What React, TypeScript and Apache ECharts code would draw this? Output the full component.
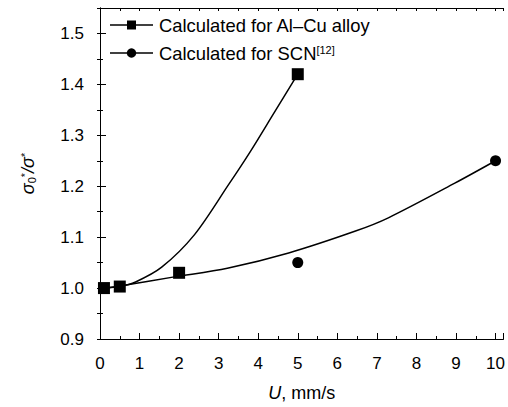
import React, { useEffect, useRef } from "react";
import * as echarts from "echarts";

const FONT = "'Liberation Sans', Arial, sans-serif";

// Measured points
const alCuX = [0.1, 0.5, 2, 5];
const alCuY = [1.0, 1.003, 1.03, 1.42];
const scnX = [5, 10];
const scnY = [1.05, 1.25];

// Curves
const alCuCurveX = [0.1, 0.5, 0.9, 1.56, 2.39, 3.25, 3.8, 4.4, 5];
const alCuCurveY = [1.0, 1.003, 1.012, 1.041, 1.105, 1.203, 1.268, 1.344, 1.42];
const scnCurveX = [0.1, 0.5, 1.88, 3.22, 4.77, 6.46, 7.29, 8.97, 10];
const scnCurveY = [1.0, 1.004, 1.022, 1.039, 1.069, 1.112, 1.138, 1.206, 1.25];

const NAME_ALCU = "Calculated for Al\u2013Cu alloy";
const NAME_SCN = "Calculated for SCN";

const zip = (xs: number[], ys: number[]) => xs.map((x, i) => [x, ys[i]]);

export default function App() {
  const ref = useRef<HTMLDivElement>(null);
  useEffect(() => {
    if (!ref.current) return;
    const chart = echarts.init(ref.current, null, { renderer: "svg" });
    const axisLine = { show: true, lineStyle: { color: "#000", width: 1 } };
    const legendFont = 18.4;
    const legendRows = [
      { y: 25, symbol: "rect", text: "{t|" + NAME_ALCU + "}" },
      { y: 53, symbol: "circle", text: "{t|" + NAME_SCN + "}{s|[12]}" },
    ];
    const legendGraphics: any[] = [];
    legendRows.forEach((r) => {
      legendGraphics.push({
        type: "line",
        shape: { x1: 110, y1: r.y, x2: 153, y2: r.y },
        style: { stroke: "#000", lineWidth: 1.5 },
      });
      if (r.symbol === "rect") {
        legendGraphics.push({
          type: "rect",
          shape: { x: 127, y: r.y - 4.5, width: 9, height: 9 },
          style: { fill: "#000" },
        });
      } else {
        legendGraphics.push({
          type: "circle",
          shape: { cx: 131.5, cy: r.y, r: 4.7 },
          style: { fill: "#000" },
        });
      }
      legendGraphics.push({
        type: "text",
        x: 159,
        y: r.y,
        style: {
          text: r.text,
          verticalAlign: "middle",
          align: "left",
          fill: "#000",
          font: `${legendFont}px ${FONT}`,
          rich: {
            t: { fontSize: legendFont, fontFamily: FONT, fill: "#000", color: "#000" },
            s: { fontSize: 11, fontFamily: FONT, fill: "#000", color: "#000", verticalAlign: "top" },
          },
        },
      });
    });

    chart.setOption({
      animation: false,
      backgroundColor: "#fff",
      textStyle: { fontFamily: FONT },
      grid: { left: 100, right: 2, top: 8, bottom: 67, containLabel: false },
      graphic: legendGraphics,
      xAxis: [
        {
          type: "value",
          position: "bottom",
          min: 0,
          max: 10.2,
          interval: 1,
          axisLine,
          axisTick: { show: true, inside: true, length: 6, lineStyle: { color: "#000" } },
          minorTick: { show: true, splitNumber: 2, length: 3, lineStyle: { color: "#000" } },
          splitLine: { show: false },
          axisLabel: {
            color: "#000",
            fontSize: 17,
            fontFamily: FONT,
            margin: 16,
            showMaxLabel: false,
            formatter: (v: number) => (Number.isInteger(v) ? String(v) : ""),
          },
          name: "{i|U}{n|, mm/s}",
          nameLocation: "middle",
          nameGap: 45,
          nameTextStyle: {
            color: "#000",
            rich: {
              i: { fontSize: 18, fontStyle: "italic", fontFamily: FONT, color: "#000" },
              n: { fontSize: 18, fontFamily: FONT, color: "#000" },
            },
          },
        },
        {
          type: "value",
          position: "top",
          min: 0,
          max: 10.2,
          interval: 0.5,
          axisLine,
          axisTick: { show: true, inside: true, length: 3, lineStyle: { color: "#000" } },
          axisLabel: { show: false },
          splitLine: { show: false },
        },
      ],
      yAxis: [
        {
          type: "value",
          position: "left",
          min: 0.9,
          max: 1.55,
          interval: 0.1,
          axisLine,
          axisTick: { show: true, inside: true, length: 6, lineStyle: { color: "#000" } },
          minorTick: { show: true, splitNumber: 2, length: 3, lineStyle: { color: "#000" } },
          splitLine: { show: false },
          axisLabel: {
            color: "#000",
            fontSize: 17,
            fontFamily: FONT,
            margin: 16,
            showMaxLabel: false,
            formatter: (v: number) => v.toFixed(1),
          },
          name: "{i|σ}{sub|0}{sup|*}{n|/}{i|σ}{sup|*}",
          nameLocation: "middle",
          nameRotate: 90,
          nameGap: 63,
          nameTextStyle: {
            color: "#000",
            rich: {
              i: { fontSize: 18, fontStyle: "italic", fontFamily: FONT, color: "#000" },
              n: { fontSize: 18, fontStyle: "italic", fontFamily: FONT, color: "#000" },
              sub: { fontSize: 11, fontFamily: FONT, color: "#000", verticalAlign: "bottom" },
              sup: { fontSize: 11, fontFamily: FONT, color: "#000", verticalAlign: "top" },
            },
          },
        },
        {
          type: "value",
          position: "right",
          min: 0.9,
          max: 1.55,
          interval: 0.05,
          axisLine,
          axisTick: { show: true, inside: true, length: 3, lineStyle: { color: "#000" } },
          axisLabel: { show: false },
          splitLine: { show: false },
        },
      ],
      series: [
        {
          name: "alcuCurve",
          type: "line",
          data: zip(alCuCurveX, alCuCurveY),
          smooth: 0.3,
          symbol: "none",
          lineStyle: { color: "#000", width: 1.5 },
          z: 2,
        },
        {
          name: "scnCurve",
          type: "line",
          data: zip(scnCurveX, scnCurveY),
          smooth: 0.3,
          symbol: "none",
          lineStyle: { color: "#000", width: 1.5 },
          z: 2,
        },
        {
          name: NAME_SCN,
          type: "scatter",
          data: zip(scnX, scnY),
          symbol: "circle",
          symbolSize: 11,
          itemStyle: { color: "#000", opacity: 1 },
          z: 3,
        },
        {
          name: NAME_ALCU,
          type: "scatter",
          data: zip(alCuX, alCuY),
          symbol: "rect",
          symbolSize: 12,
          itemStyle: { color: "#000", opacity: 1 },
          z: 4,
        },
      ],
    });
    return () => chart.dispose();
  }, []);
  return (
    <div
      ref={ref}
      style={{ position: "fixed", left: 0, top: 0, width: 508, height: 407, background: "#fff" }}
    />
  );
}
